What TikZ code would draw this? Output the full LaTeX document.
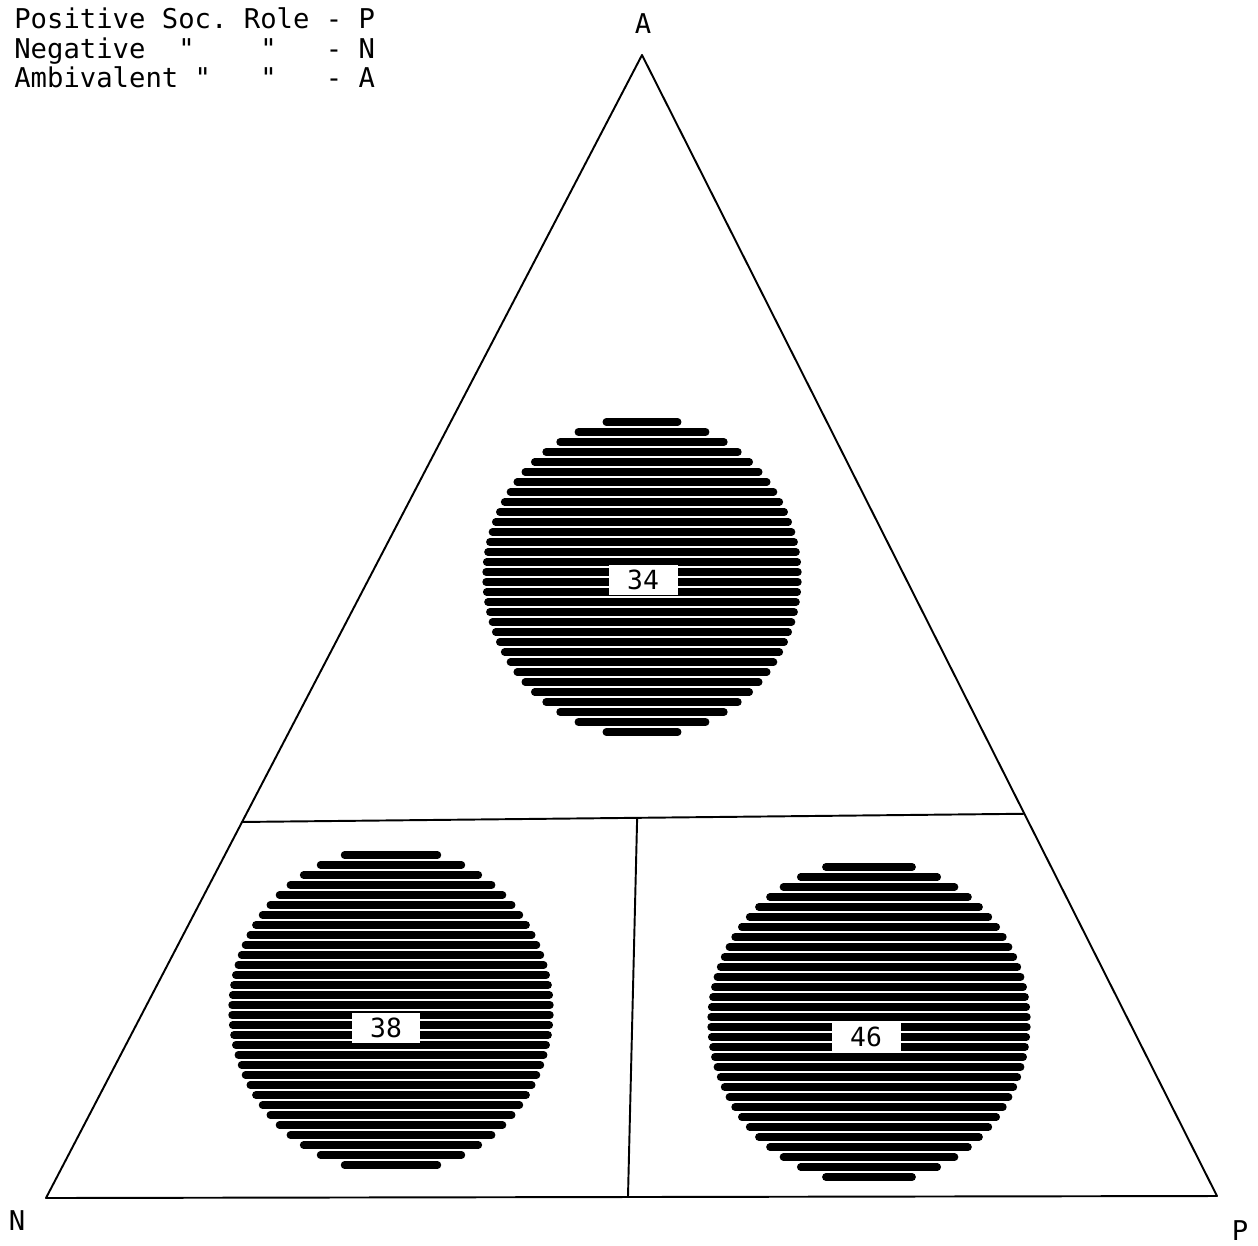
\documentclass[tikz,border=0pt]{standalone}
\usepackage{fontspec}
\newfontfamily\typefont{DejaVu Sans Mono}
\usetikzlibrary{calc}

\begin{document}
\begin{tikzpicture}[
  x=0.02cm, y=-0.02cm,
  edge/.style={line width=1.1pt, line join=round},
  stripe/.style={line width=4.3pt, line cap=round},
  tlabel/.style={inner sep=0pt, font=\typefont\fontsize{15.5}{17}\selectfont},
  numbox/.style={fill=white, inner sep=0pt, minimum width=1.38cm,
                 minimum height=0.6cm, font=\typefont\fontsize{15}{17}\selectfont}]

\useasboundingbox (0,0) rectangle (1258,1245);

% ================= legend =================================================
\node[tlabel, anchor=north west, align=left] (legend) at (14,7)
  {Positive~Soc.~Role~-~P\\
   Negative~~"~~~~"~~~-~N\\
   Ambivalent~"~~~"~~~-~A};

% ================= the triangle ===========================================
\coordinate (A) at ( 642,  55);
\coordinate (N) at (  46,1198);
\coordinate (P) at (1217,1196);

\draw[edge] (A) -- (N) -- (P) -- cycle;

\coordinate (L) at ($(A)!0.671!(N)$);
\coordinate (R) at ($(A)!0.665!(P)$);
\draw[edge] (L) -- (R);

\coordinate (T) at ($(L)!0.505!(R)$);
\coordinate (B) at ($(N)!0.497!(P)$);
\draw[edge] (T) -- (B);

\node[tlabel, anchor=base] (labA) at ( 643,  33) {A};
\node[tlabel, anchor=base] (labN) at (  17,1230) {N};
\node[tlabel, anchor=base] (labP) at (1240,1240) {P};

% ================= the three striped discs ================================
\foreach \cx/\cy/\r/\bx/\by/\num/\nm in
    {642/577/160/643/580/34/ambi,
     391/1010/163/386/1028/38/neg,
     869/1022/162/866/1037/46/pos}{
  \foreach \k in {-16,...,15}{
    \pgfmathsetmacro{\dy}{(\k+0.5)*10}
    % half chord, worked out in tens to keep the numbers small
    \pgfmathsetmacro{\hw}{10*sqrt(max((\r/10)^2-(\dy/10)^2,0.16))-4}
    \draw[stripe] (\cx-\hw,\cy+\dy) -- (\cx+\hw,\cy+\dy);
  }
  \node[numbox] (\nm) at (\bx,\by) {\num};
}

\end{tikzpicture}
\end{document}
